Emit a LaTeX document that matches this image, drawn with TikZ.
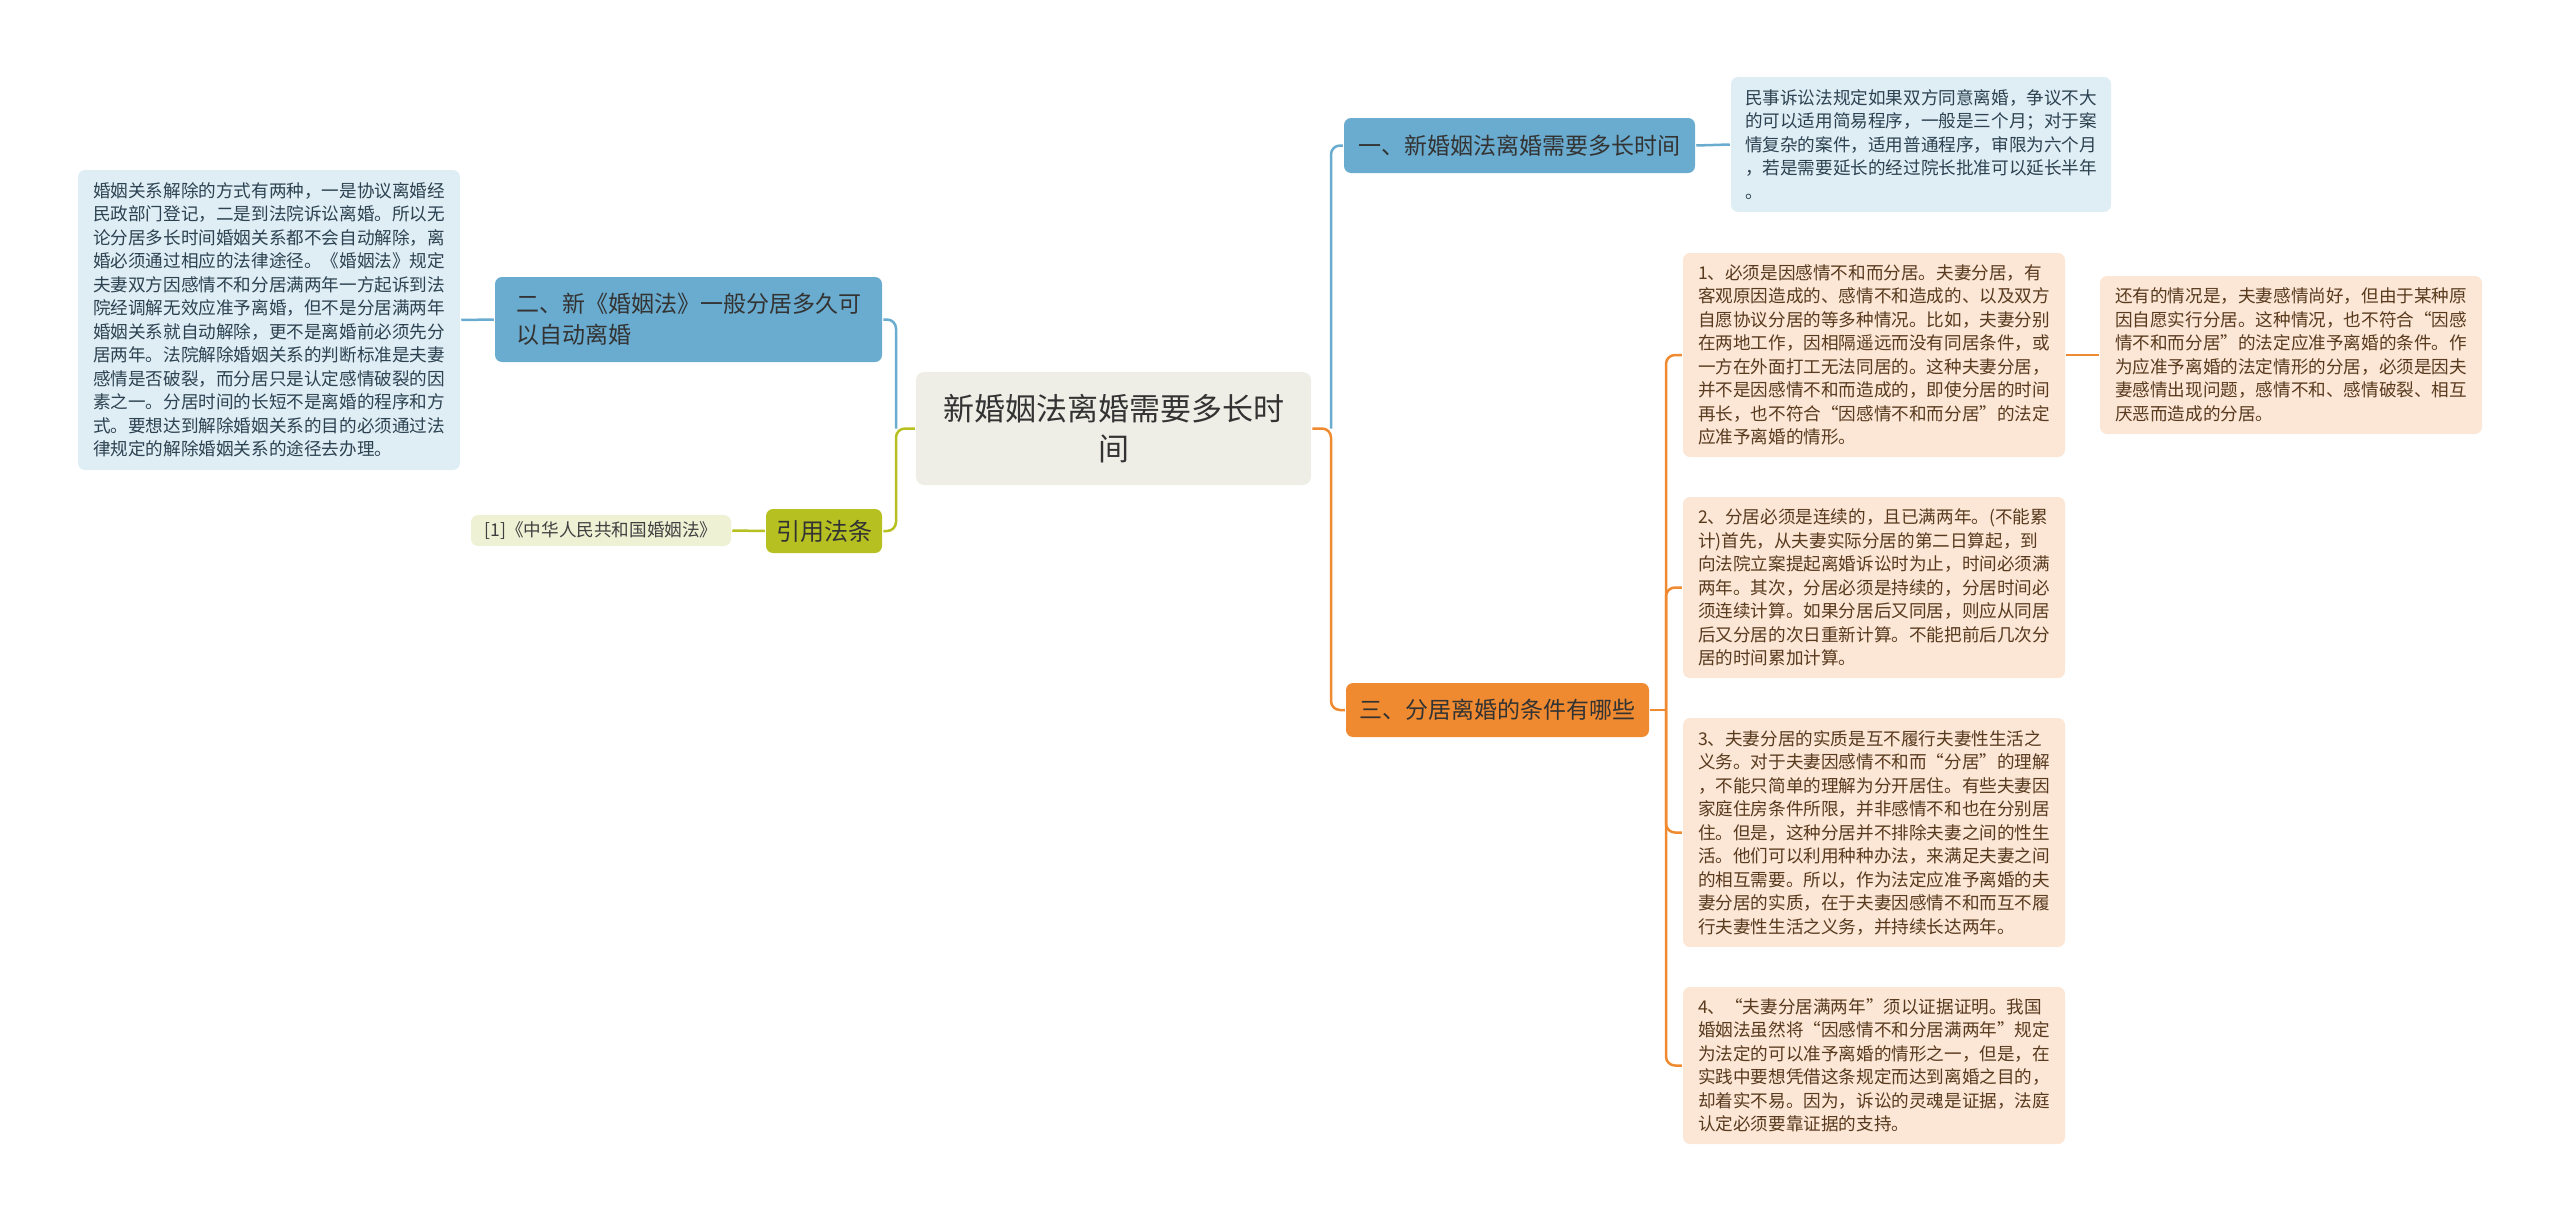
\documentclass[tikz,border=0pt]{standalone}
\usepackage{fontspec}
\usepackage{tikz}
\setmainfont{Noto Sans CJK SC}
\definecolor{astblau}{RGB}{106,172,207}
\definecolor{boxblau}{RGB}{223,237,245}
\definecolor{astorange}{RGB}{240,138,48}
\definecolor{boxorange}{RGB}{252,230,213}
\definecolor{astgruen}{RGB}{182,192,33}
\definecolor{boxgruen}{RGB}{239,241,213}
\definecolor{wurzel}{RGB}{238,238,230}
\definecolor{textblau}{RGB}{44,66,80}
\definecolor{textbraun}{RGB}{88,58,30}

\begin{document}
\begin{tikzpicture}[x=1pt, y=-1pt, line width=2.5pt,
  wurzelknoten/.style={fill=wurzel, rounded corners=8pt, inner sep=0pt, align=center,
    text=black!80, font=\fontsize{31}{40}\selectfont},
  astknoten/.style={rounded corners=7pt, inner sep=0pt, align=left, text=black!80,
    font=\fontsize{23}{31.5}\selectfont},
  blattbox/.style={rounded corners=7pt, inner sep=0pt, align=left,
    minimum width=382pt, font=\fontsize{17.6}{23.5}\selectfont},
  blaubox/.style={blattbox, fill=boxblau, text=textblau},
  orangebox/.style={blattbox, fill=boxorange, text=textbraun},
  ablau/.style={astblau, rounded corners=9pt},
  aorange/.style={astorange, rounded corners=9pt},
  agruen/.style={astgruen, rounded corners=9pt}]
  % Bildbereich
  \useasboundingbox (0,0) rectangle (2560,1223);
  % Wurzel
  \node[wurzelknoten, minimum width=395pt, minimum height=113pt] (wurzel) at (1113.5,428.5)
    {新婚姻法离婚需要多长时\\间};
  % rechte Seite
  \node[astknoten, fill=astblau, minimum width=351pt, minimum height=55pt] (eins) at (1519.5,145.5)
    {一、新婚姻法离婚需要多长时间};
  \node[blaubox, minimum width=380pt, minimum height=135pt] (einsText) at (1921,144.5)
    {民事诉讼法规定如果双方同意离婚，争议不大\\
     的可以适用简易程序，一般是三个月；对于案\\
     情复杂的案件，适用普通程序，审限为六个月\\
     ，若是需要延长的经过院长批准可以延长半年\\
     。};
  \node[astknoten, fill=astorange, minimum width=303pt, minimum height=54pt] (drei) at (1497.5,710)
    {三、分居离婚的条件有哪些};
  \node[orangebox, minimum height=204pt] (bedA) at (1874,355)
    {1、必须是因感情不和而分居。夫妻分居，有\\
     客观原因造成的、感情不和造成的、以及双方\\
     自愿协议分居的等多种情况。比如，夫妻分别\\
     在两地工作，因相隔遥远而没有同居条件，或\\
     一方在外面打工无法同居的。这种夫妻分居，\\
     并不是因感情不和而造成的，即使分居的时间\\
     再长，也不符合“因感情不和而分居”的法定\\
     应准予离婚的情形。};
  \node[orangebox, minimum height=158pt] (bedAzusatz) at (2291,355)
    {还有的情况是，夫妻感情尚好，但由于某种原\\
     因自愿实行分居。这种情况，也不符合“因感\\
     情不和而分居”的法定应准予离婚的条件。作\\
     为应准予离婚的法定情形的分居，必须是因夫\\
     妻感情出现问题，感情不和、感情破裂、相互\\
     厌恶而造成的分居。};
  \node[orangebox, minimum height=181pt] (bedB) at (1874,587.5)
    {2、分居必须是连续的，且已满两年。(不能累\\
     计)首先，从夫妻实际分居的第二日算起，到\\
     向法院立案提起离婚诉讼时为止，时间必须满\\
     两年。其次，分居必须是持续的，分居时间必\\
     须连续计算。如果分居后又同居，则应从同居\\
     后又分居的次日重新计算。不能把前后几次分\\
     居的时间累加计算。};
  \node[orangebox, minimum height=229pt] (bedC) at (1874,832.5)
    {3、夫妻分居的实质是互不履行夫妻性生活之\\
     义务。对于夫妻因感情不和而“分居”的理解\\
     ，不能只简单的理解为分开居住。有些夫妻因\\
     家庭住房条件所限，并非感情不和也在分别居\\
     住。但是，这种分居并不排除夫妻之间的性生\\
     活。他们可以利用种种办法，来满足夫妻之间\\
     的相互需要。所以，作为法定应准予离婚的夫\\
     妻分居的实质，在于夫妻因感情不和而互不履\\
     行夫妻性生活之义务，并持续长达两年。};
  \node[orangebox, minimum height=157pt] (bedD) at (1874,1065.5)
    {4、“夫妻分居满两年”须以证据证明。我国\\
     婚姻法虽然将“因感情不和分居满两年”规定\\
     为法定的可以准予离婚的情形之一，但是，在\\
     实践中要想凭借这条规定而达到离婚之目的，\\
     却着实不易。因为，诉讼的灵魂是证据，法庭\\
     认定必须要靠证据的支持。};
  % linke Seite
  \node[astknoten, fill=astblau, minimum width=387pt, minimum height=85pt] (zwei) at (688.5,319.5)
    {二、新《婚姻法》一般分居多久可\\以自动离婚};
  \node[blaubox, minimum height=300pt] (zweiText) at (269,320)
    {婚姻关系解除的方式有两种，一是协议离婚经\\
     民政部门登记，二是到法院诉讼离婚。所以无\\
     论分居多长时间婚姻关系都不会自动解除，离\\
     婚必须通过相应的法律途径。《婚姻法》规定\\
     夫妻双方因感情不和分居满两年一方起诉到法\\
     院经调解无效应准予离婚，但不是分居满两年\\
     婚姻关系就自动解除，更不是离婚前必须先分\\
     居两年。法院解除婚姻关系的判断标准是夫妻\\
     感情是否破裂，而分居只是认定感情破裂的因\\
     素之一。分居时间的长短不是离婚的程序和方\\
     式。要想达到解除婚姻关系的目的必须通过法\\
     律规定的解除婚姻关系的途径去办理。};
  \node[astknoten, fill=astgruen, minimum width=116pt, minimum height=44pt,
    font=\fontsize{24}{30}\selectfont] (gesetz) at (824,531) {引用法条};
  \node[blattbox, fill=boxgruen, text=black!75, minimum width=260pt, minimum height=31pt]
    (gesetzText) at (601,530.5) {[1]《中华人民共和国婚姻法》};
  % Verzweigungen
  \coordinate (rechts) at (1331,428.5);
  \coordinate (links) at (896,428.5);
  \coordinate (dreiAst) at (1666,710);
  % Verbindungen zeichnen
  \draw[aorange] (wurzel.east) -- (rechts) |- (drei.west);
  \draw[ablau] (rechts) |- (eins.west);
  \draw[ablau] (eins.east) -- (einsText.west);
  \draw[agruen] (wurzel.west) -- (links) |- (gesetz.east);
  \draw[ablau] (links) |- (zwei.east);
  \draw[ablau] (zwei.west) -- (zweiText.east);
  \draw[agruen] (gesetz.west) -- (gesetzText.east);
  \draw[aorange] (drei.east) -- (dreiAst);
  \foreach \b in {bedA,bedB,bedC,bedD} \draw[aorange] (dreiAst) |- (\b.west);
  \draw[aorange] (bedA.east) -- (bedAzusatz.west);
\end{tikzpicture}
\end{document}
